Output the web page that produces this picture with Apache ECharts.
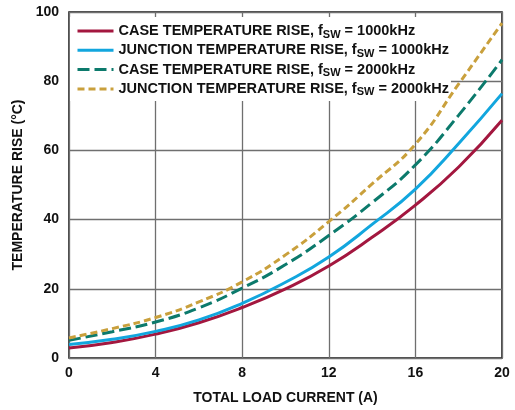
<!DOCTYPE html>
<html>
<head>
<meta charset="utf-8">
<script src="https://cdn.jsdelivr.net/npm/echarts@6/dist/echarts.min.js"></script>
<style>
  html, body { margin: 0; padding: 0; background: #fff; }
  #chart { width: 515px; height: 410px; }
</style>
</head>
<body>
<div id="chart"></div>
<script>
// Load current (A) at which each curve is sampled
const loadCurrent = [0, 2, 4, 6, 8, 10, 12, 14, 16, 18, 20];

// Temperature rise (°C) for each curve
const caseRise1000 = [2.9, 4.5, 6.9, 10.2, 14.6, 20.0, 26.6, 34.9, 44.2, 55.2, 68.7];
const junctionRise1000 = [3.9, 5.4, 7.7, 11.0, 15.8, 21.9, 29.2, 38.6, 48.8, 62.0, 76.4];
const caseRise2000 = [5.1, 7.6, 10.4, 14.5, 20.2, 27.0, 35.4, 44.9, 55.8, 70.2, 86.2];
const junctionRise2000 = [5.8, 8.5, 11.7, 16.2, 22.0, 29.8, 39.4, 50.3, 61.8, 79.2, 96.8];

// Legend entries: prefix before the subscript, subscript, and suffix
const seriesNames = [
  'CASE TEMPERATURE RISE, f|SW| = 1000kHz',
  'JUNCTION TEMPERATURE RISE, f|SW| = 1000kHz',
  'CASE TEMPERATURE RISE, f|SW| = 2000kHz',
  'JUNCTION TEMPERATURE RISE, f|SW| = 2000kHz'
];

const xTicks = { min: 0, max: 20, interval: 4 };
const yTicks = { min: 0, max: 100, interval: 20 };

const FONT = 'Liberation Sans, Arial, sans-serif';

function pairs(ys) {
  return loadCurrent.map((x, i) => [x, ys[i]]);
}

function lineSeries(name, values, color, dash) {
  return {
    name: name,
    type: 'line',
    data: pairs(values),
    smooth: 0.5,
    symbol: 'none',
    lineStyle: { color: color, width: 3, type: dash },
    itemStyle: { color: color },
    z: 3
  };
}

const chart = echarts.init(document.getElementById('chart'), null, { renderer: 'canvas' });

chart.setOption({
  animation: false,
  backgroundColor: '#fff',
  textStyle: { fontFamily: FONT },
  grid: {
    left: 69, right: 13, top: 12, bottom: 52,
    show: true, borderColor: '#111', borderWidth: 1.5, backgroundColor: 'transparent'
  },
  legend: {
    orient: 'vertical',
    left: 70,
    top: 17,
    padding: [5, 2, 3, 6],
    backgroundColor: '#fff',
    itemWidth: 36,
    itemHeight: 14,
    itemGap: 1.3,
    z: 2,
    // hide the marker glyph so only the line sample shows
    itemStyle: { opacity: 0 },
    lineStyle: { width: 3 },
    formatter: function (name) {
      const parts = name.split('|');
      return '{main|' + parts[0] + '}{sub|' + parts[1] + '}{main|' + parts[2] + '}';
    },
    textStyle: {
      rich: {
        main: { fontFamily: FONT, fontWeight: 'bold', fontSize: 14.5, color: '#111', lineHeight: 16 },
        sub: { fontFamily: FONT, fontWeight: 'bold', fontSize: 11, color: '#111', padding: [7, 0, 0, 0], lineHeight: 16 }
      }
    },
    data: seriesNames
  },
  xAxis: {
    type: 'value',
    min: xTicks.min, max: xTicks.max, interval: xTicks.interval,
    name: 'TOTAL LOAD CURRENT (A)',
    nameLocation: 'middle',
    nameGap: 33,
    nameTextStyle: { fontFamily: FONT, fontWeight: 'bold', fontSize: 14, color: '#111' },
    axisLine: { show: false },
    axisTick: { show: false },
    axisLabel: { margin: 8, fontFamily: FONT, fontWeight: 'bold', fontSize: 14, color: '#111' },
    splitLine: { show: true, lineStyle: { color: '#6f6f6f', width: 1.3 } }
  },
  yAxis: {
    type: 'value',
    min: yTicks.min, max: yTicks.max, interval: yTicks.interval,
    name: 'TEMPERATURE RISE (°C)',
    nameLocation: 'middle',
    nameGap: 37,
    nameTextStyle: { fontFamily: FONT, fontWeight: 'bold', fontSize: 14, color: '#111' },
    axisLine: { show: false },
    axisTick: { show: false },
    axisLabel: { margin: 10, fontFamily: FONT, fontWeight: 'bold', fontSize: 14, color: '#111' },
    splitLine: { show: true, lineStyle: { color: '#6f6f6f', width: 1.3 } }
  },
  series: [
    lineSeries(seriesNames[0], caseRise1000, '#a3173f', 'solid'),
    lineSeries(seriesNames[1], junctionRise1000, '#12a6de', 'solid'),
    lineSeries(seriesNames[2], caseRise2000, '#0c7a6c', [12, 5]),
    lineSeries(seriesNames[3], junctionRise2000, '#c9a03c', [7, 4])
  ]
});
</script>
</body>
</html>
